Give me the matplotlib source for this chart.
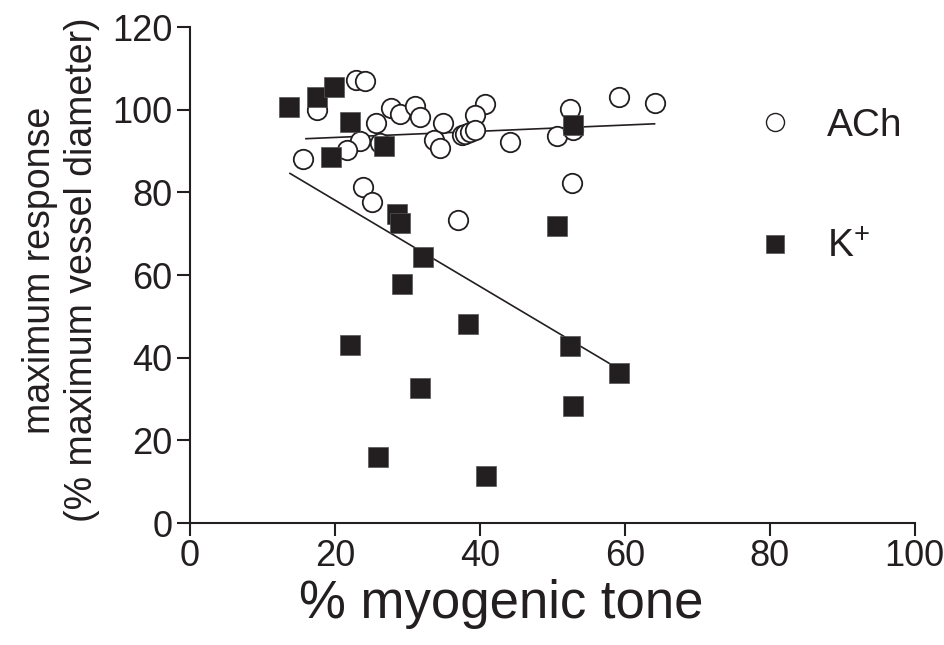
import matplotlib
matplotlib.use("Agg")
from matplotlib import pyplot as plt
from matplotlib.lines import Line2D

plt.rcParams["font.family"] = ["Liberation Sans", "DejaVu Sans"]
plt.rcParams["mathtext.fontset"] = "custom"
plt.rcParams["mathtext.rm"] = "Liberation Sans"

# ======================
# DATA
# ======================
ach_x = [22.9, 24.1, 17.5, 25.7, 27.8, 29.0, 31.0, 31.8, 23.5, 21.6,
         15.6, 26.2, 34.9, 33.7, 34.5, 40.7, 39.3, 37.5, 38.0, 38.7,
         39.3, 44.1, 50.6, 52.4, 52.9, 59.2, 64.1, 52.7, 23.9, 25.1, 37.0]
ach_y = [107.2, 106.9, 99.9, 96.7, 100.5, 98.9, 101.0, 98.3, 92.4, 90.2,
         88.1, 92.0, 96.7, 92.7, 90.7, 101.5, 98.7, 93.9, 94.1, 94.5,
         95.1, 92.1, 93.6, 100.1, 95.1, 103.2, 101.7, 82.2, 81.4, 77.7, 73.3]

k_x = [13.6, 17.5, 19.9, 22.1, 19.5, 26.8, 52.8, 28.5, 29.0, 50.7,
       32.1, 29.2, 38.3, 22.1, 31.8, 26.0, 40.8, 52.4, 59.2, 52.8]
k_y = [100.7, 103.2, 105.6, 97.1, 88.5, 91.2, 96.3, 74.9, 72.5, 71.9,
       64.3, 57.8, 48.1, 43.2, 32.7, 16.0, 11.5, 42.9, 36.4, 28.4]

# regression lines (end points)
ach_fit_x = [16.0, 64.1]
ach_fit_y = [93.0, 96.6]
k_fit_x = [13.8, 57.9]
k_fit_y = [84.6, 38.6]

x_ticks = [0, 20, 40, 60, 80, 100]
y_ticks = [0, 20, 40, 60, 80, 100, 120]

# ======================
# PLOT
# ======================
fig = plt.figure(figsize=(9.45, 6.45), dpi=100)
ax = fig.add_axes([0.201, 0.189, 0.767, 0.769])

dark = "#231f20"

ax.plot(ach_fit_x, ach_fit_y, color=dark, lw=1.2, zorder=1)
ax.plot(k_fit_x, k_fit_y, color=dark, lw=1.2, zorder=1)

ax.plot(ach_x, ach_y, "o", ms=14, mfc="white", mec=dark, mew=1.3,
        ls="none", zorder=2)
ax.plot(k_x, k_y, "s", ms=13.7, mfc=dark, mec="#555555", mew=0.5,
        ls="none", zorder=3)

ax.set_xlim(0, 100)
ax.set_ylim(0, 120)
ax.set_xticks(x_ticks)
ax.set_yticks(y_ticks)

for side in ["top", "right"]:
    ax.spines[side].set_visible(False)
for side in ["left", "bottom"]:
    ax.spines[side].set_linewidth(1.5)
    ax.spines[side].set_color(dark)

ax.tick_params(axis="both", direction="out", length=9.5, width=1.5,
               colors=dark, labelsize=26, pad=3)
ax.tick_params(axis="x", pad=2)

ax.set_xlabel("% myogenic tone", fontsize=38, color=dark)
ax.xaxis.set_label_coords(0.43, -0.112)
ax.set_ylabel("maximum response\n(% maximum vessel diameter)", fontsize=27,
              color=dark, linespacing=1.22)
ax.yaxis.set_label_coords(-0.124, 0.51)

handles = [
    Line2D([], [], marker="o", ls="none", ms=13, mfc="white", mec=dark, mew=1.0),
    Line2D([], [], marker="s", ls="none", ms=13.5, mfc=dark, mec="#555555", mew=0.5),
]
ax.legend(handles, ["ACh", "K$^{+}$"], loc="center left",
          bbox_to_anchor=(0.78, 0.678), frameon=False, fontsize=28,
          handlelength=1.0, handletextpad=0.85, labelspacing=2.2,
          borderpad=0, borderaxespad=0, labelcolor=dark)

fig.savefig("out.png", dpi=100, facecolor="white")
